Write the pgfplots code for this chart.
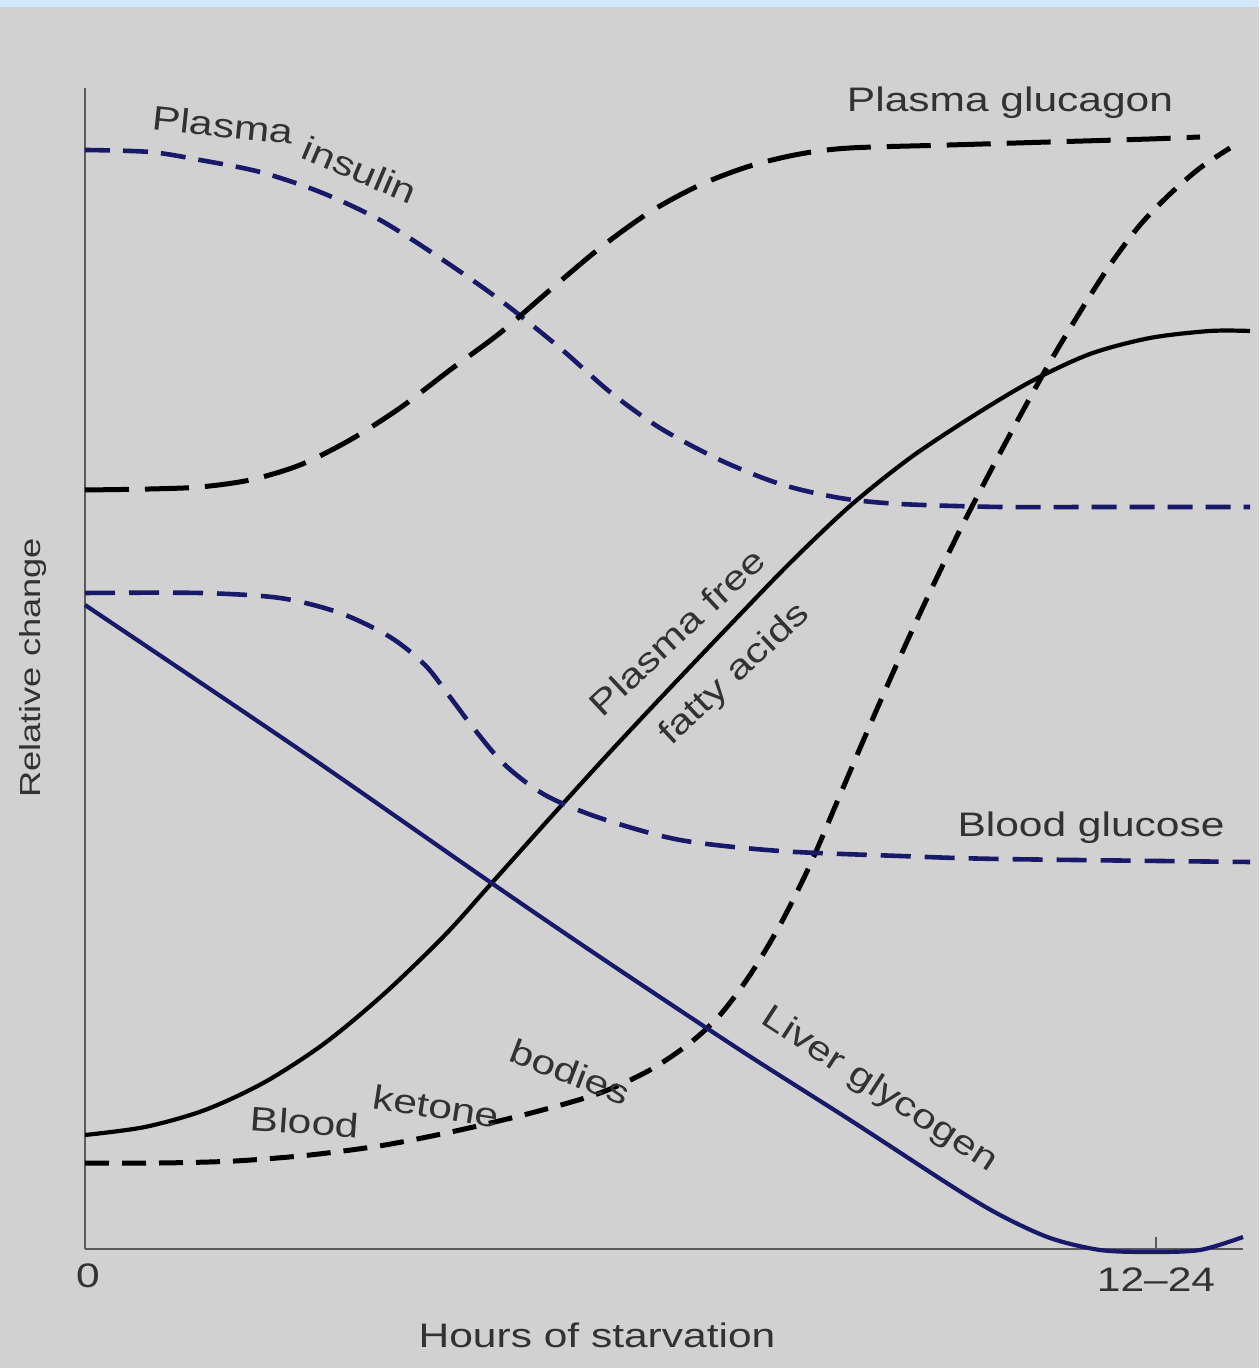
\documentclass[border=0pt]{standalone}
\usepackage{pgfplots}
\pgfplotsset{compat=1.18}
\usepackage{fontspec}
\setmainfont{Liberation Sans}
\definecolor{bg}{RGB}{209,209,209}
\definecolor{topblue}{RGB}{210,232,252}
\definecolor{navy}{RGB}{25,25,105}
\definecolor{txt}{RGB}{50,50,50}
\definecolor{axgray}{RGB}{90,90,90}
\newcommand{\lbl}[1]{\scalebox{1.25}[1]{#1}}
\tikzset{lbl/.style={text=txt, font=\fontsize{17}{20}\selectfont, inner sep=0pt}}
\begin{document}
\begin{tikzpicture}
\begin{axis}[
  set layers, clip=false, scale only axis,
  width=579pt, height=580.5pt,
  xmin=85, xmax=1243, ymin=119, ymax=1280,
  axis x line=bottom, axis y line=left,
  axis line style={axgray, line width=1pt, -},
  xtick={1156}, xticklabels={}, ytick=\empty,
  tick align=inside, major tick length=6pt,
  tick style={axgray, line width=0.8pt},
  every axis plot/.append style={smooth, tension=0.5, line cap=butt},
]
\begin{pgfonlayer}{axis background}
\fill[bg] (axis cs:0,0) rectangle (axis cs:1259,1368);
\fill[topblue] (axis cs:0,1361) rectangle (axis cs:1259,1368);
\end{pgfonlayer}

% Plasma insulin
\addplot[navy, line width=2.3pt, dash pattern=on 12.5pt off 6.5pt] coordinates {
(85,1218) (150,1216) (200,1208) (260,1196) (320,1176) (380,1148) (440,1110)
(500,1068) (560,1020) (610,976) (660,940) (720,908) (780,884) (840,870)
(900,864) (1000,861) (1100,861) (1250,861)};

% Plasma glucagon
\addplot[black, line width=2.5pt, dash pattern=on 22pt off 8pt] coordinates {
(85,878) (150,879) (200,881) (250,888) (300,903) (350,928) (400,960)
(450,998) (500,1035) (550,1078) (600,1120) (650,1156) (700,1183)
(750,1202) (800,1214) (850,1220) (950,1223) (1050,1226) (1150,1229) (1200,1231)};

% Blood ketone bodies
\addplot[black, line width=2.5pt, dash pattern=on 12pt off 6.5pt] coordinates {
(85,205) (160,205) (235,207) (310,213) (385,223) (460,238) (535,256) (600,275)
(650,298) (690,325) (720,353) (750,393) (780,443) (810,503) (840,573) (870,643)
(900,711) (930,776) (960,838) (990,896) (1020,952) (1050,1006) (1080,1056)
(1110,1103) (1140,1143) (1170,1174) (1200,1200) (1230,1220)};

% Plasma free fatty acids
\addplot[black, line width=2.1pt] coordinates {
(85,233) (145,241) (205,258) (265,286) (325,325) (385,375) (445,433) (490,483)
(550,550) (610,616) (670,680) (730,743) (790,805) (850,862) (910,910) (970,950)
(1030,986) (1090,1014) (1150,1030) (1210,1037) (1250,1037)};

% Blood glucose
\addplot[navy, line width=2.3pt, dash pattern=on 15pt off 7pt] coordinates {
(85,775) (200,775) (280,770) (340,755) (390,731) (425,703) (450,671) (475,638)
(505,603) (545,573) (600,550) (680,528) (780,517) (900,512) (1000,509) (1250,506)};

% Liver glycogen
\addplot[navy, line width=2.1pt] coordinates {
(85,763) (300,618) (490,486) (600,411) (740,318) (850,248) (953,181) (1000,153)
(1050,130) (1100,118) (1150,116) (1200,118) (1243,131)};

% labels
\node[lbl, anchor=base] at (axis cs:1010,1256) {\lbl{Plasma glucagon}};
\node[lbl, rotate=-6] at (axis cs:223,1243) {\lbl{Plasma}};
\node[lbl, rotate=-23] at (axis cs:360,1198) {\lbl{insulin}};
\node[lbl, rotate=43] at (axis cs:677,736) {\lbl{Plasma free}};
\node[lbl, rotate=43] at (axis cs:735,693) {\lbl{fatty acids}};
\node[lbl, anchor=base] at (axis cs:1091,531) {\lbl{Blood glucose}};
\node[lbl, rotate=-4] at (axis cs:305,246) {\lbl{Blood}};
\node[lbl, rotate=-9] at (axis cs:436,262) {\lbl{ketone}};
\node[lbl, rotate=-21] at (axis cs:570,296) {\lbl{bodies}};
\node[lbl, rotate=-33] at (axis cs:879,278) {\lbl{Liver glycogen}};
\node[lbl] at (axis cs:88,92) {\lbl{0}};
\node[lbl] at (axis cs:1156,88) {\lbl{12--24}};
\node[lbl] at (axis cs:597,33) {\lbl{Hours of starvation}};
\node[lbl, rotate=90, font=\fontsize{14.5}{17}\selectfont] at (axis cs:33,700) {\lbl{Relative change}};
\end{axis}
\end{tikzpicture}
\end{document}
